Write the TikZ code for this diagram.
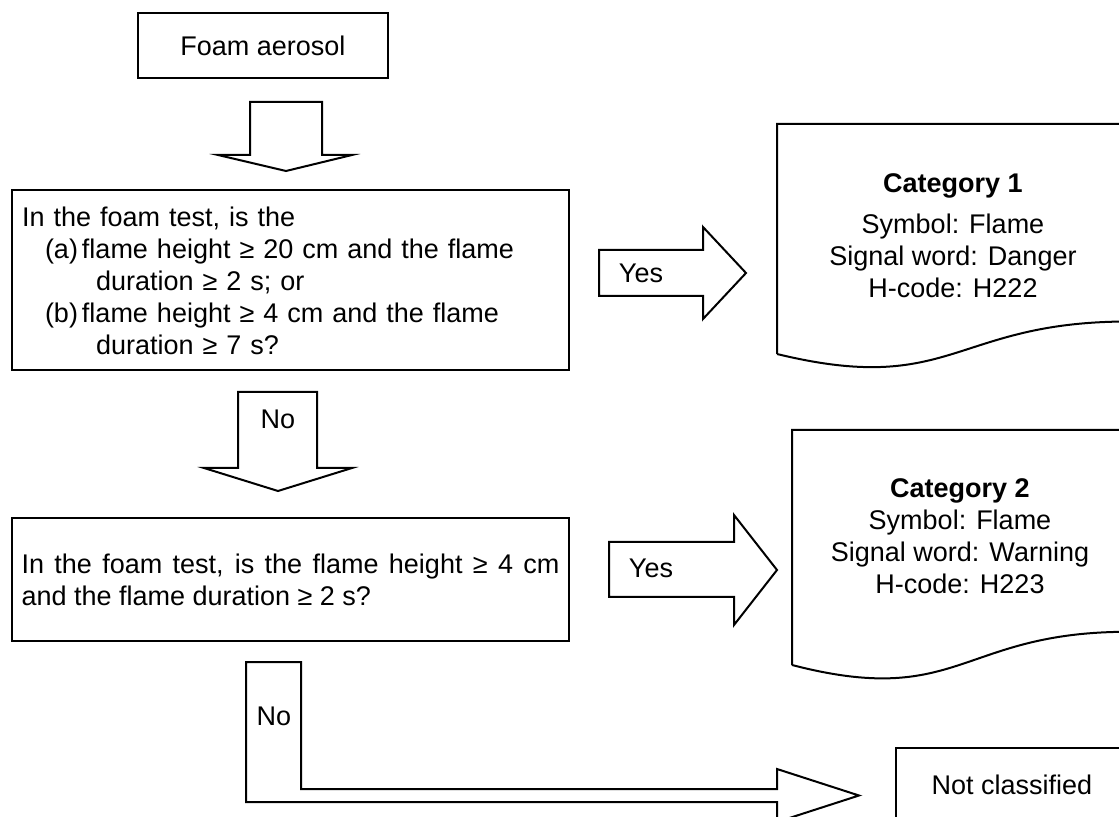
\documentclass[tikz,border=0pt]{standalone}
\usepackage{fontspec}
\setmainfont{Liberation Sans}
\usetikzlibrary{positioning}

\begin{document}
\begin{tikzpicture}[
    x=0.5pt, y=-0.5pt,
    every node/.style={font=\fontsize{13.5}{16}\selectfont},
    box/.style={draw, line width=1pt, fill=white, inner sep=0pt},
    blockarr/.style={draw, line width=1pt, fill=white, line join=miter},
    lbl/.style={inner sep=0pt}
  ]
    \useasboundingbox (0,0) rectangle (1119,817);
    \clip (0,0) rectangle (1119,817);

    % Start box
    \node[box, minimum width=125pt, minimum height=32.5pt] (foam) at (263,45.5) {Foam aerosol};

    % Question boxes
    \node[box, minimum width=278.5pt, minimum height=90pt, text width=268.5pt, align=left] (q1) at (290.5,280.5)
      {In the foam test, is the\\
       \hspace*{11.5pt}\makebox[18.5pt][l]{(a)}flame height ≥ 20 cm and the flame\\
       \hspace*{37pt}duration ≥ 2 s; or\\
       \hspace*{11.5pt}\makebox[18.5pt][l]{(b)}flame height ≥ 4 cm and the flame\\
       \hspace*{37pt}duration ≥ 7 s?};
    \node[box, minimum width=278.5pt, minimum height=61.5pt, text width=269pt, align=justify] (q2) at (290.5,579.5)
      {In the foam test, is the flame height ≥ 4 cm and the flame duration ≥ 2 s?};

    % Result boxes (document shapes)
    \draw[box] (777,354) -- (777,124) -- (1129,124) -- (1129,321.5)
      .. controls (953,321.5) and (953,396.8) .. (777,354);
    \node[lbl, align=center] (cat1) at (953,236)
      {\textbf{Category 1}\\[4.5pt] Symbol: Flame\\ Signal word: Danger\\ H-code: H222};
    \draw[box] (792,665) -- (792,430) -- (1128,430) -- (1128,631.8)
      .. controls (960,631.8) and (960,708.6) .. (792,665);
    \node[lbl, align=center] (cat2) at (960,536)
      {\textbf{Category 2}\\ Symbol: Flame\\ Signal word: Warning\\ H-code: H223};
    \node[box, minimum width=116pt, minimum height=37pt] (nc) at (1012,785) {Not classified};

    % Block arrows
    \draw[blockarr] (250,102) -- (322,102) -- (322,155) -- (352,155) -- (286,171) -- (218,155) -- (250,155) -- cycle;
    \draw[blockarr] (238,392) -- (317,392) -- (317,468) -- (352,468) -- (278,491) -- (204,468) -- (238,468) -- cycle;
    \draw[blockarr] (599,250) -- (703,250) -- (703,227) -- (746,273) -- (703,319) -- (703,296) -- (599,296) -- cycle;
    \draw[blockarr] (609,542) -- (734,542) -- (734,515) -- (777,570) -- (734,625) -- (734,597) -- (609,597) -- cycle;
    \draw[blockarr] (246,662) -- (301,662) -- (301,789) -- (777,789) -- (777,769) -- (859,795.5)
      -- (777,822) -- (777,802) -- (246,802) -- cycle;

    % Arrow labels
    \node[lbl] (no1) at (278,419) {No};
    \node[lbl] (yes1) at (641,273) {Yes};
    \node[lbl] (yes2) at (651,568) {Yes};
    \node[lbl] (no2) at (274,716) {No};

  \end{tikzpicture}
\end{document}
